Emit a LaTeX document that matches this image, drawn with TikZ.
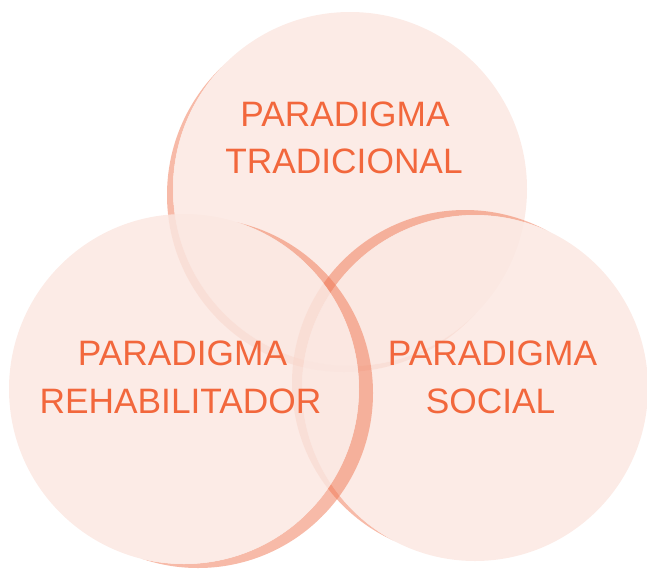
\documentclass[tikz,border=0pt]{standalone}
\usepackage{fontspec}
\setmainfont{Liberation Sans}
\definecolor{txtcol}{RGB}{242,103,60}
\definecolor{bandcol}{RGB}{240,118,82}
\definecolor{diskcol}{RGB}{251,231,225}
\tikzset{
  band/.style={fill=bandcol, fill opacity=0.5},
  disk/.style={fill=diskcol, fill opacity=0.83},
  label/.style={anchor=base, inner sep=0pt, text=txtcol, font=\fontsize{35.3}{42}\selectfont}
}
\begin{document}
\begin{tikzpicture}[x=1pt,y=-1pt]
\useasboundingbox (0,0) rectangle (647,568);
% ---- top circle (tradicional)
\begin{scope}
  \clip (344,195) circle[radius=177pt];
  \fill[band, even odd rule] (-20,-20) rectangle (700,620) (350,189) circle[radius=177pt];
\end{scope}
\fill[disk] (350,189) circle[radius=177pt];
% ---- right circle (social)
\begin{scope}
  \clip (465,383) circle[radius=173pt];
  \fill[band, even odd rule] (-20,-20) rectangle (700,620) (475,388) circle[radius=173pt];
\end{scope}
\fill[disk] (475,388) circle[radius=173pt];
% ---- left circle (rehabilitador)
\begin{scope}
  \clip (198,393) circle[radius=175pt];
  \fill[band, even odd rule] (-20,-20) rectangle (700,620) (184,389) circle[radius=175pt];
\end{scope}
\fill[disk] (184,389) circle[radius=175pt];
% ---- labels
\node[label] (t1) at (345,126) {PARADIGMA};
\node[label] (t2) at (344,173) {TRADICIONAL};
\node[label] (l1) at (182.5,365.5) {PARADIGMA};
\node[label] (l2) at (180.5,413) {REHABILITADOR};
\node[label] (r1) at (492.5,365) {PARADIGMA};
\node[label] (r2) at (490.5,413) {SOCIAL};
\end{tikzpicture}
\end{document}
